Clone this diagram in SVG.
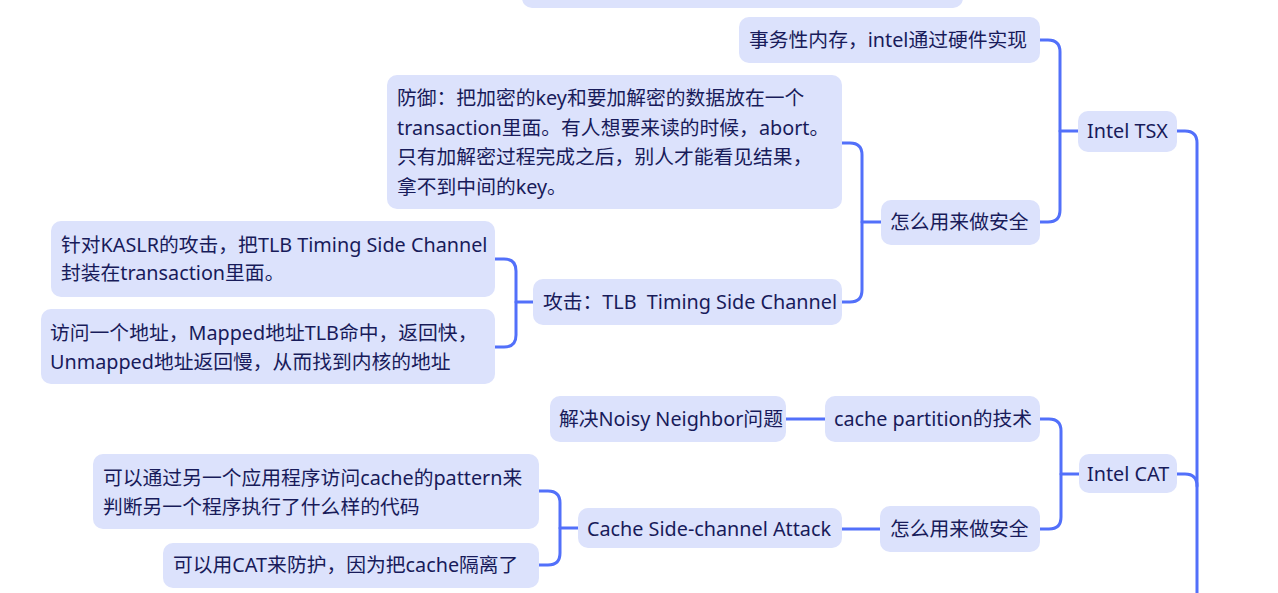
<svg xmlns="http://www.w3.org/2000/svg" width="1278" height="593" viewBox="0 0 1278 593">
<style>
.n rect{fill:#dce2fc;}
.n text{font-family:"Noto Sans","Noto Sans CJK SC",sans-serif;font-size:19.8px;fill:#181b5a;}
.c path{fill:none;stroke:#5270fa;stroke-width:3;stroke-linecap:round;}
</style>
<rect width="1278" height="593" fill="#ffffff"/>
<g class="c" id="connectors">
<path d="M1177,131 H1185 Q1197,131 1197,143 V593"/>
<path d="M1177,474 H1185 Q1197,474 1197,486"/>
<path d="M1078,131 H1060"/>
<path d="M1040,40 H1048 Q1060,40 1060,52 V210 Q1060,222 1048,222 H1040"/>
<path d="M881,222 H862"/>
<path d="M842,143 H850 Q862,143 862,155 V290 Q862,302 850,302 H842"/>
<path d="M533,302 H516"/>
<path d="M495,259 H504 Q516,259 516,271 V335 Q516,347 504,347 H495"/>
<path d="M1079,474 H1061"/>
<path d="M1040,419 H1049 Q1061,419 1061,431 V517 Q1061,529 1049,529 H1040"/>
<path d="M786,419 H825"/>
<path d="M842,529 H880"/>
<path d="M578,528 H560"/>
<path d="M539,491 H548 Q560,491 560,503 V553 Q560,565 548,565 H539"/>
</g>
<g class="n" id="n-top"><rect x="522" y="-40" width="441" height="48" rx="10"/></g>
<g class="n" id="n-txmem"><rect x="739" y="17" width="301" height="46" rx="10"/><text x="749" y="47">事务性内存，intel通过硬件实现</text></g>
<g class="n" id="n-tsx"><rect x="1078" y="111" width="99" height="41" rx="10"/><text x="1087" y="138">Intel TSX</text></g>
<g class="n" id="n-tsx-sec"><rect x="881" y="200" width="159" height="45" rx="10"/><text x="890" y="229">怎么用来做安全</text></g>
<g class="n" id="n-defense"><rect x="387" y="75" width="455" height="134" rx="10"/>
<text x="397" y="105">防御：把加密的key和要加解密的数据放在一个</text>
<text x="397" y="134.5">transaction里面。有人想要来读的时候，abort。</text>
<text x="397" y="164">只有加解密过程完成之后，别人才能看见结果，</text>
<text x="397" y="193.5">拿不到中间的key。</text></g>
<g class="n" id="n-attack"><rect x="533" y="279" width="309" height="46" rx="10"/><text x="543" y="309" xml:space="preserve">攻击：TLB  Timing Side Channel</text></g>
<g class="n" id="n-kaslr"><rect x="51" y="221" width="444" height="76" rx="10"/>
<text x="61" y="252">针对KASLR的攻击，把TLB Timing Side Channel</text>
<text x="61" y="280">封装在transaction里面。</text></g>
<g class="n" id="n-access"><rect x="41" y="309" width="454" height="75" rx="10"/>
<text x="50" y="340">访问一个地址，Mapped地址TLB命中，返回快，</text>
<text x="50" y="369">Unmapped地址返回慢，从而找到内核的地址</text></g>
<g class="n" id="n-cat"><rect x="1079" y="454" width="98" height="39" rx="10"/><text x="1087" y="481">Intel CAT</text></g>
<g class="n" id="n-partition"><rect x="825" y="396" width="215" height="46" rx="10"/><text x="834" y="426">cache partition的技术</text></g>
<g class="n" id="n-noisy"><rect x="550" y="396" width="236" height="46" rx="10"/><text x="559" y="426">解决Noisy Neighbor问题</text></g>
<g class="n" id="n-cat-sec"><rect x="880" y="506" width="160" height="46" rx="10"/><text x="890" y="536">怎么用来做安全</text></g>
<g class="n" id="n-sidechan"><rect x="578" y="508" width="264" height="40" rx="10"/><text x="587" y="536">Cache Side-channel Attack</text></g>
<g class="n" id="n-pattern"><rect x="93" y="454" width="446" height="75" rx="10"/>
<text x="103" y="485">可以通过另一个应用程序访问cache的pattern来</text>
<text x="103" y="514">判断另一个程序执行了什么样的代码</text></g>
<g class="n" id="n-protect"><rect x="163" y="543" width="376" height="45" rx="10"/><text x="173" y="572">可以用CAT来防护，因为把cache隔离了</text></g>
</svg>
